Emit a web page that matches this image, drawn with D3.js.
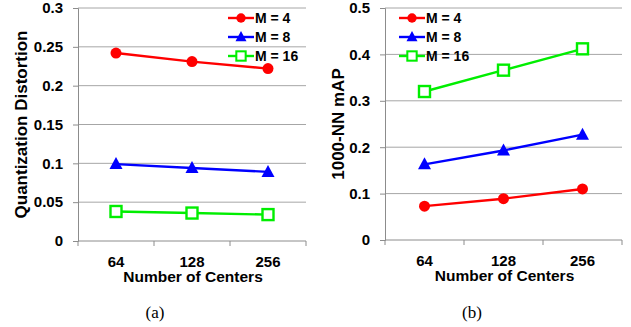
<!DOCTYPE html>
<html>
<head>
<meta charset="utf-8">
<script src="https://cdn.jsdelivr.net/npm/d3@7"></script>
<style>
  body { margin: 0; background: #fff; }
  svg { font-family: "Liberation Sans", Arial, sans-serif; }
  .tick text { font-weight: bold; font-size: 15px; fill: #000; }
  .axtitle { font-weight: bold; font-size: 15.5px; fill: #000; }
  .ytitle { font-weight: bold; font-size: 17px; fill: #000; }
  .legend text { font-weight: bold; font-size: 14px; fill: #000; }
  .caption { font-family: "Liberation Serif", "Times New Roman", serif; font-size: 17px; }
</style>
</head>
<body>
<svg width="631" height="327"></svg>
<script>
// categories along x
var centers = ["64", "128", "256"];
var seriesNames = ["M = 4", "M = 8", "M = 16"];

// panel (a): quantization distortion
var distM4 = [0.242, 0.231, 0.222];
var distM8 = [0.099, 0.094, 0.089];
var distM16 = [0.038, 0.036, 0.034];
var distTicks = [0, 0.05, 0.1, 0.15, 0.2, 0.25, 0.3];

// panel (b): 1000-NN mAP
var mapM4 = [0.073, 0.089, 0.110];
var mapM8 = [0.163, 0.193, 0.227];
var mapM16 = [0.320, 0.366, 0.412];
var mapTicks = [0, 0.1, 0.2, 0.3, 0.4, 0.5];

var colors = ["#ff0000", "#0000ff", "#00ee00"];
var shapes = ["circle", "triangle", "square"];

const svg = d3.select("svg");

function drawMarker(sel, shape, color) {
    if (shape === "circle") {
        sel.append("circle").attr("r", 5.5).attr("fill", color);
    } else if (shape === "triangle") {
        sel.append("path").attr("d", "M0,-7L6.5,5L-6.5,5Z").attr("fill", color);
    } else {
        sel.append("rect").attr("x", -5.5).attr("y", -5.5)
            .attr("width", 11).attr("height", 11)
            .attr("fill", "#fff").attr("stroke", color).attr("stroke-width", 2.4);
    }
}

function panel(opts) {
    var x = d3.scaleBand().domain(centers).range([opts.left, opts.right]);
    var y = d3.scaleLinear().domain([0, opts.max]).range([opts.bottom, opts.top]);

    var g = svg.append("g");

    // gridlines
    g.append("g").selectAll("line")
        .data(opts.ticks.slice(1))
        .enter().append("line")
        .attr("x1", opts.left).attr("x2", opts.right)
        .attr("y1", function(d) { return y(d); })
        .attr("y2", function(d) { return y(d); })
        .attr("stroke", "#a6a6a6").attr("stroke-width", 1);

    var yAxis = g.append("g")
        .attr("transform", "translate(" + opts.left + ",0)")
        .call(d3.axisLeft(y).tickValues(opts.ticks).tickSize(5).tickPadding(10)
            .tickFormat(function(d) { return String(d); }));
    yAxis.select(".domain").attr("stroke", "#8c8c8c");
    yAxis.selectAll(".tick line").attr("stroke", "#8c8c8c");
    yAxis.selectAll(".tick text").style("font-family", "Liberation Sans, Arial, sans-serif");

    var xAxis = g.append("g")
        .attr("transform", "translate(0," + opts.bottom + ")")
        .call(d3.axisBottom(x).tickSize(0).tickPadding(15));
    xAxis.select(".domain").attr("stroke", "#8c8c8c").attr("d",
        "M" + opts.left + ",0H" + opts.right);
    xAxis.selectAll(".tick text").style("font-family", "Liberation Sans, Arial, sans-serif");
    // boundary ticks between categories
    g.append("g").selectAll("line")
        .data(centers.concat(["end"]))
        .enter().append("line")
        .attr("x1", function(d, i) { return opts.left + i * x.step(); })
        .attr("x2", function(d, i) { return opts.left + i * x.step(); })
        .attr("y1", opts.bottom).attr("y2", opts.bottom + 5)
        .attr("stroke", "#8c8c8c");

    g.append("text").attr("class", "axtitle")
        .attr("x", (opts.left + opts.right) / 2 + 1)
        .attr("y", opts.bottom + 41)
        .attr("text-anchor", "middle")
        .text("Number of Centers");

    g.append("text").attr("class", "ytitle")
        .attr("transform", "translate(" + opts.titleX + "," + (opts.top + opts.bottom) / 2 + ") rotate(-90)")
        .attr("text-anchor", "middle")
        .text(opts.yTitle);

    g.append("text").attr("class", "caption")
        .attr("x", opts.captionX).attr("y", 318)
        .attr("text-anchor", "middle")
        .text(opts.caption);

    var line = d3.line()
        .x(function(d, i) { return x(centers[i]) + x.bandwidth() / 2; })
        .y(function(d) { return y(d); });

    opts.series.forEach(function(values, s) {
        g.append("path")
            .attr("d", line(values))
            .attr("fill", "none")
            .attr("stroke", colors[s])
            .attr("stroke-width", 2.4);
        values.forEach(function(v, i) {
            var m = g.append("g")
                .attr("transform", "translate(" + (x(centers[i]) + x.bandwidth() / 2) + "," + y(v) + ")");
            drawMarker(m, shapes[s], colors[s]);
        });
    });

    var legend = g.append("g").attr("class", "legend");
    seriesNames.forEach(function(name, s) {
        var ly = 18 + s * 19;
        legend.append("line")
            .attr("x1", opts.legendX).attr("x2", opts.legendX + 26)
            .attr("y1", ly).attr("y2", ly)
            .attr("stroke", colors[s]).attr("stroke-width", 2.4);
        var m = legend.append("g")
            .attr("transform", "translate(" + (opts.legendX + 13) + "," + ly + ") scale(0.85)");
        drawMarker(m, shapes[s], colors[s]);
        legend.append("text")
            .attr("x", opts.legendX + 27).attr("y", ly + 5)
            .text(name);
    });
}

panel({
    left: 78, right: 306, top: 8, bottom: 241, max: 0.3,
    ticks: distTicks, series: [distM4, distM8, distM16],
    yTitle: "Quantization Distortion", titleX: 27,
    caption: "(a)", captionX: 155, legendX: 228
});

panel({
    left: 385, right: 622, top: 8, bottom: 240, max: 0.5,
    ticks: mapTicks, series: [mapM4, mapM8, mapM16],
    yTitle: "1000-NN mAP", titleX: 344,
    caption: "(b)", captionX: 472, legendX: 399
});
</script>
</body>
</html>
